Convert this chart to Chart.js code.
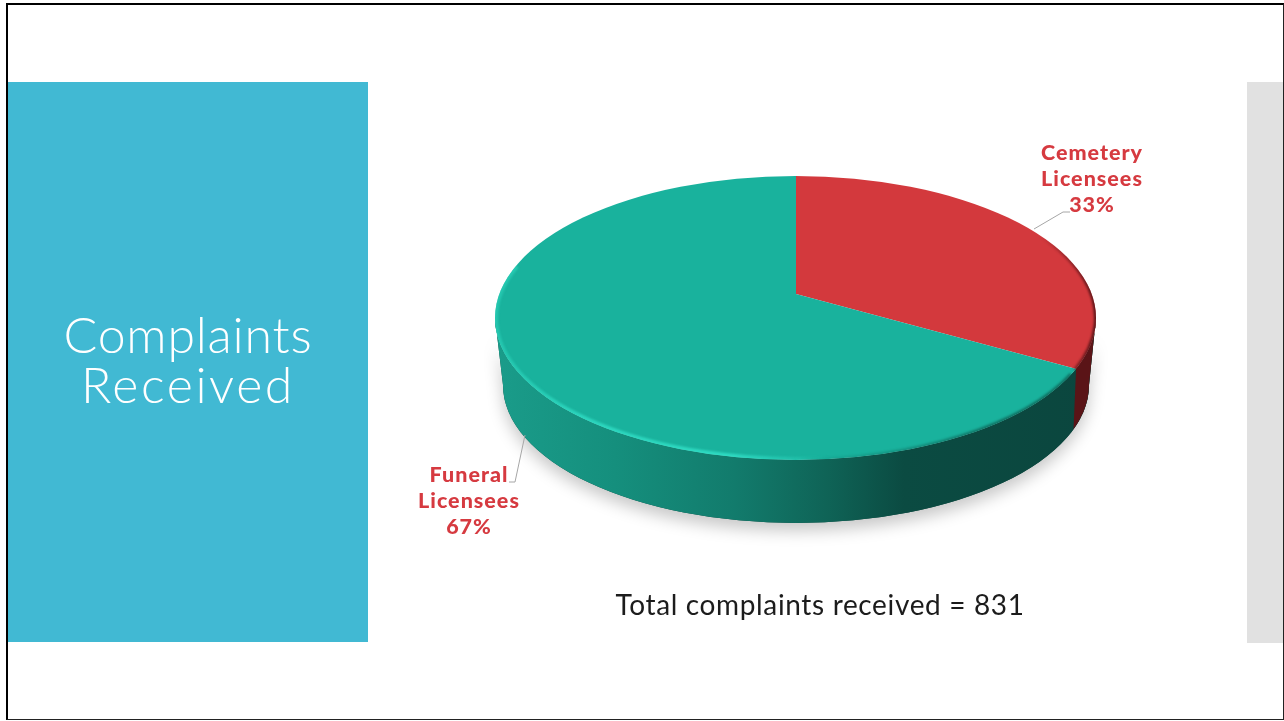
<!DOCTYPE html>
<html>
<head>
<meta charset="utf-8">
<title>Complaints Received</title>
<script src="https://cdn.jsdelivr.net/npm/chart.js@4/dist/chart.umd.min.js"></script>
<style>
  html, body { margin: 0; padding: 0; background: #fff; }
  #slide { position: relative; width: 1284px; height: 721px; overflow: hidden; background: #fff; }
  #frame { position: absolute; left: 6px; top: 3px; width: 1278px; height: 717px; box-sizing: border-box;
           border-left: 2px solid #000; border-top: 2px solid #000; border-right: 1px solid #222; border-bottom: 1px solid #222; }
  #band { position: absolute; left: 8px; top: 82px; width: 360px; height: 560px; background: #41b9d3; }
  #side { position: absolute; left: 1247px; top: 82px; width: 36px; height: 561px; background: #e1e1e1; }
  #heading { position: absolute; left: 8px; top: 309px; width: 360px; text-align: center; color: #fff;
             font: 300 50px/50px Lato, sans-serif; }
  #heading span { display: block; }
  #heading .first { letter-spacing: 0.8px; }
  #heading .second { letter-spacing: 2.6px; }
  #total { position: absolute; left: 520px; top: 586px; width: 600px; text-align: center; color: #1c1c1c;
           font: 400 28px/36px Lato, sans-serif; letter-spacing: 0.65px; }
  canvas { position: absolute; left: 0; top: 0; }
</style>
</head>
<body>
<div id="slide">
  <div id="frame"></div>
  <div id="band"></div>
  <div id="side"></div>
  <canvas id="pie" width="1284" height="721"></canvas>
  <div id="heading"><span class="first">Complaints</span><span class="second">Received</span></div>
  <div id="total"></div>
</div>
<script>
const categories = ['Cemetery Licensees', 'Funeral Licensees'];
const shares = [33, 67];
const sliceColors = ['#d3393d', '#19b29d'];
const totalComplaints = 831;

document.getElementById('total').textContent = 'Total complaints received = ' + totalComplaints;

// look of the tilted disc
const top3d = { x: 795.5, y: 318, rx: 300.5, ry: 142 };
const bottom3d = { x: 796, y: 385, rx: 293, ry: 138 };
const apex = { x: 796, y: 294, squash: 0.486 };
const labelSpots = [{ x: 1092, y: 160 }, { x: 469, y: 482 }];
const leaders = [
  [[1034, 229], [1063, 212], [1070, 212]],
  [[525, 435], [515, 482], [509, 482]]
];

function wallPath(ctx) {
  ctx.beginPath();
  ctx.ellipse(top3d.x, top3d.y, top3d.rx, top3d.ry, 0, 0, Math.PI);
  ctx.ellipse(bottom3d.x, bottom3d.y, bottom3d.rx, bottom3d.ry, 0, Math.PI, 0, true);
  ctx.closePath();
}

// where the edge between the slices meets the rim
function rimPoint(angle) {
  const dx = Math.cos(angle), dy = Math.sin(angle) * apex.squash;
  const ox = (apex.x - top3d.x) / top3d.rx, oy = (apex.y - top3d.y) / top3d.ry;
  const ux = dx / top3d.rx, uy = dy / top3d.ry;
  const a = ux * ux + uy * uy, b = 2 * (ox * ux + oy * uy), c = ox * ox + oy * oy - 1;
  const t = (-b + Math.sqrt(b * b - 4 * a * c)) / (2 * a);
  return { x: apex.x + t * dx, y: apex.y + t * dy };
}

const disc3d = {
  id: 'disc3d',
  beforeDatasetsDraw(chart) {
    const ctx = chart.ctx;
    const arc = chart.getDatasetMeta(0).data[0];
    const edge = rimPoint(arc.endAngle);

    ctx.save();
    ctx.shadowColor = 'rgba(0,0,0,0.22)';
    ctx.shadowBlur = 16;
    ctx.shadowOffsetY = 8;
    ctx.fillStyle = '#0b463e';
    wallPath(ctx);
    ctx.fill();
    ctx.restore();

    const teal = ctx.createLinearGradient(495, 0, 1096, 0);
    teal.addColorStop(0, '#1a9c8a');
    teal.addColorStop(0.2, '#158f7d');
    teal.addColorStop(0.4, '#127b6c');
    teal.addColorStop(0.55, '#0f6457');
    teal.addColorStop(0.68, '#0b4b42');
    teal.addColorStop(1, '#0b463e');
    ctx.fillStyle = teal;
    wallPath(ctx);
    ctx.fill();

    ctx.save();
    ctx.beginPath();
    ctx.moveTo(edge.x, 0);
    ctx.lineTo(edge.x, edge.y);
    ctx.lineTo(edge.x - 3, edge.y + 70);
    ctx.lineTo(edge.x - 3, 721);
    ctx.lineTo(1284, 721);
    ctx.lineTo(1284, 0);
    ctx.closePath();
    ctx.clip();
    ctx.fillStyle = '#5a1417';
    wallPath(ctx);
    ctx.fill();
    ctx.restore();

    // the slices are drawn by Chart.js, tilted and cut to the top face
    ctx.save();
    ctx.beginPath();
    ctx.ellipse(top3d.x, top3d.y, top3d.rx, top3d.ry, 0, 0, Math.PI * 2);
    ctx.clip();
    ctx.translate(apex.x, apex.y);
    ctx.scale(1, apex.squash);
    ctx.translate(-arc.x, -arc.y);
  },
  afterDatasetsDraw(chart) {
    const ctx = chart.ctx;
    ctx.restore();

    ctx.save();
    ctx.beginPath();
    ctx.ellipse(top3d.x, top3d.y, top3d.rx, top3d.ry, 0, 0, Math.PI * 2);
    ctx.clip();
    ctx.filter = 'blur(1px)';

    const shine = ctx.createLinearGradient(495, 0, 830, 0);
    shine.addColorStop(0, 'rgba(45,215,190,0.55)');
    shine.addColorStop(0.25, 'rgba(50,225,200,0.75)');
    shine.addColorStop(0.7, 'rgba(50,225,200,0.85)');
    shine.addColorStop(1, 'rgba(50,225,200,0)');
    ctx.strokeStyle = shine;
    ctx.lineWidth = 6;
    ctx.beginPath();
    ctx.ellipse(top3d.x, top3d.y, top3d.rx, top3d.ry, 0, Math.PI * 0.35, Math.PI * 1.12);
    ctx.stroke();

    const shade = ctx.createLinearGradient(1040, 0, 1096, 0);
    shade.addColorStop(0, 'rgba(70,15,18,0)');
    shade.addColorStop(1, 'rgba(70,15,18,0.85)');
    ctx.strokeStyle = shade;
    ctx.lineWidth = 4;
    ctx.beginPath();
    ctx.ellipse(top3d.x, top3d.y, top3d.rx, top3d.ry, 0, -Math.PI * 0.3, Math.PI * 0.12);
    ctx.stroke();

    const dark = ctx.createLinearGradient(800, 0, 1000, 0);
    dark.addColorStop(0, 'rgba(8,70,60,0)');
    dark.addColorStop(1, 'rgba(8,70,60,0.6)');
    ctx.strokeStyle = dark;
    ctx.lineWidth = 4;
    ctx.beginPath();
    ctx.ellipse(top3d.x, top3d.y, top3d.rx, top3d.ry, 0, Math.PI * 0.13, Math.PI * 0.5);
    ctx.stroke();
    ctx.restore();
  },
  afterDraw(chart) {
    const ctx = chart.ctx;
    ctx.save();
    ctx.strokeStyle = '#a6a6a6';
    ctx.lineWidth = 1;
    leaders.forEach(points => {
      ctx.beginPath();
      points.forEach((p, i) => i ? ctx.lineTo(p[0], p[1]) : ctx.moveTo(p[0], p[1]));
      ctx.stroke();
    });
    ctx.fillStyle = '#d63a40';
    ctx.font = '900 21.5px Lato, sans-serif';
    ctx.letterSpacing = '1px';
    ctx.textAlign = 'center';
    categories.forEach((name, i) => {
      const lines = name.split(' ').concat(shares[i] + '%');
      lines.forEach((line, n) => ctx.fillText(line, labelSpots[i].x, labelSpots[i].y + n * 26));
    });
    ctx.restore();
  }
};

new Chart(document.getElementById('pie'), {
  type: 'pie',
  data: {
    labels: categories,
    datasets: [{
      data: shares,
      backgroundColor: sliceColors,
      borderWidth: 0,
      clip: false
    }]
  },
  options: {
    responsive: false,
    animation: false,
    radius: 345,
    layout: { padding: 0 },
    plugins: {
      legend: { display: false },
      tooltip: { enabled: false }
    }
  },
  plugins: [disc3d]
});
</script>
</body>
</html>
